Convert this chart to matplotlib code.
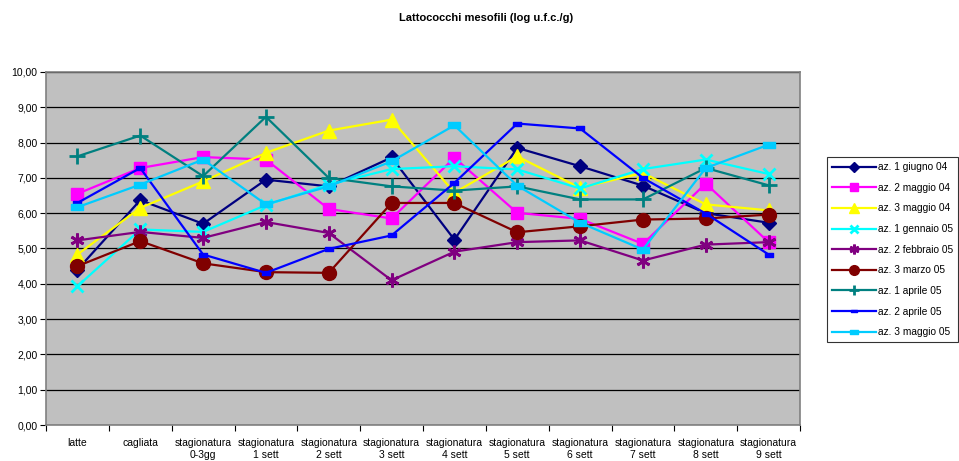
import matplotlib
matplotlib.use("Agg")
import matplotlib.pyplot as plt
from matplotlib.path import Path

plt.rcParams['font.family'] = ['Liberation Sans', 'DejaVu Sans']

categories = ["latte", "cagliata", "stagionatura\n0-3gg", "stagionatura\n1 sett",
              "stagionatura\n2 sett", "stagionatura\n3 sett", "stagionatura\n4 sett",
              "stagionatura\n5 sett", "stagionatura\n6 sett", "stagionatura\n7 sett",
              "stagionatura\n8 sett", "stagionatura\n9 sett"]

az1_giugno_04 = [4.40, 6.37, 5.70, 6.95, 6.76, 7.58, 5.25, 7.85, 7.33, 6.78, 6.00, 5.73]
az2_maggio_04 = [6.55, 7.28, 7.59, 7.52, 6.12, 5.85, 7.57, 6.01, 5.84, 5.13, 6.84, 5.18]
az3_maggio_04 = [4.83, 6.15, 6.90, 7.71, 8.34, 8.65, 6.58, 7.61, 6.72, 7.14, 6.25, 6.08]
az1_gennaio_05 = [3.93, 5.54, 5.47, 6.23, 6.81, 7.25, 7.33, 7.24, 6.70, 7.25, 7.52, 7.11]
az2_febbraio_05 = [5.23, 5.47, 5.30, 5.75, 5.44, 4.10, 4.91, 5.18, 5.23, 4.66, 5.11, 5.18]
az3_marzo_05 = [4.50, 5.21, 4.58, 4.33, 4.31, 6.29, 6.29, 5.46, 5.63, 5.82, 5.85, 5.96]
az1_aprile_05 = [7.61, 8.20, 7.05, 8.73, 7.00, 6.76, 6.64, 6.76, 6.39, 6.39, 7.28, 6.79]
az2_aprile_05 = [6.29, 7.28, 4.83, 4.31, 4.99, 5.37, 6.86, 8.54, 8.40, 7.00, 5.99, 4.83]
az3_maggio_05 = [6.17, 6.81, 7.52, 6.25, 6.76, 7.47, 8.49, 6.78, 5.73, 4.97, 7.28, 7.94]

dash = Path([(-1, -0.45), (1, -0.45), (1, 0.45), (-1, 0.45), (-1, -0.45)],
            [Path.MOVETO, Path.LINETO, Path.LINETO, Path.LINETO, Path.CLOSEPOLY])

series = [
    ("az. 1 giugno 04", az1_giugno_04, "#000080", "D", 7),
    ("az. 2 maggio 04", az2_maggio_04, "#FF00FF", "s", 9),
    ("az. 3 maggio 04", az3_maggio_04, "#FFFF00", "^", 10),
    ("az. 1 gennaio 05", az1_gennaio_05, "#00FFFF", "x", 9),
    ("az. 2 febbraio 05", az2_febbraio_05, "#800080", (6, 2, 0), 10),
    ("az. 3 marzo 05", az3_marzo_05, "#800000", "o", 10),
    ("az. 1 aprile 05", az1_aprile_05, "#008080", "+", 11),
    ("az. 2 aprile 05", az2_aprile_05, "#0000FF", dash, 6),
    ("az. 3 maggio 05", az3_maggio_05, "#00CCFF", dash, 9),
]

fig = plt.figure(figsize=(9.59, 4.61), dpi=100)
ax = fig.add_axes([46/959, 36/461, 754/959, 353/461])
ax.set_facecolor("#C0C0C0")

x = list(range(len(categories)))
for name, vals, col, mk, ms in series:
    mew = 2 if mk in ("x", "+") or mk == (6, 2, 0) else 1
    ax.plot(x, vals, color=col, marker=mk, markersize=ms, linewidth=1.6,
            markeredgewidth=mew, markerfacecolor=col, markeredgecolor=col, label=name)

ax.set_xlim(-0.5, len(categories) - 0.5)
ax.set_ylim(0, 10)
ax.set_yticks([i for i in range(11)])
ax.set_yticklabels([f"{i},00" for i in range(11)], fontsize=7.5)
ax.yaxis.grid(True, color="black", linewidth=0.9)
ax.set_axisbelow(True)

ax.set_xticks(x)
ax.set_xticklabels(categories, fontsize=7.5, linespacing=1.3)
ax.set_xticks([i - 0.5 for i in range(len(categories) + 1)], minor=True)
ax.tick_params(axis="x", which="major", length=0, pad=9)
ax.tick_params(axis="x", which="minor", length=4, direction="out", width=0.8)
ax.tick_params(axis="y", length=4, width=0.8, pad=2)

for side in ("top", "right", "left", "bottom"):
    ax.spines[side].set_color("#808080")
    ax.spines[side].set_linewidth(1.2)

fig.text(486/959, 1 - 18/461, "Lattococchi mesofili (log u.f.c./g)",
         ha="center", va="center", fontsize=8, fontweight="bold")

leg = fig.legend(loc="upper left", bbox_to_anchor=(822/959, 1 - 152/461),
                 fontsize=7.3, frameon=True, fancybox=False, edgecolor="black",
                 handlelength=4.3, labelspacing=1.05, borderpad=0.5,
                 handletextpad=0.2, markerscale=0.7)
leg.get_frame().set_linewidth(0.8)

fig.savefig("out.png", dpi=100)
